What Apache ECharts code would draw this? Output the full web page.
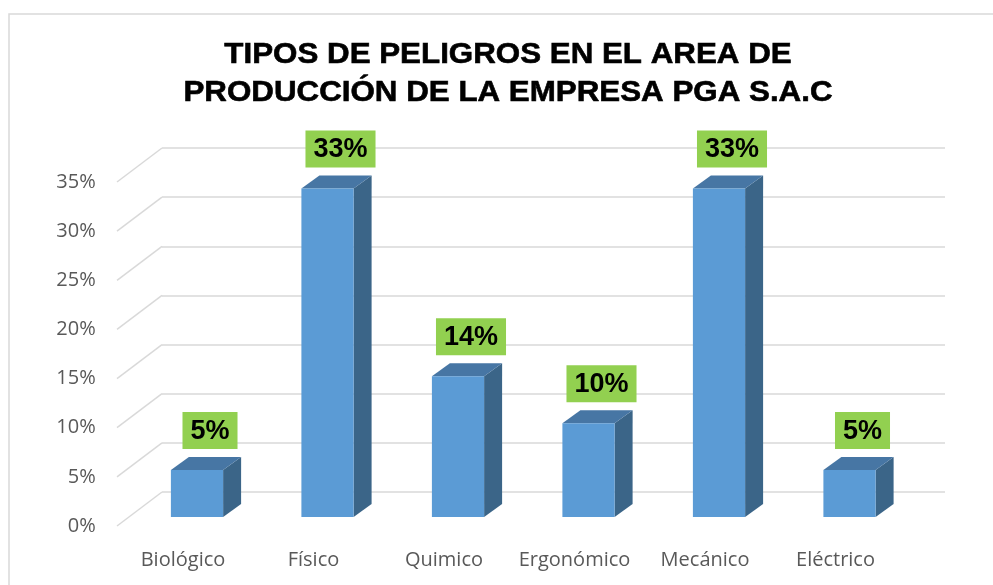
<!DOCTYPE html>
<html>
<head>
<meta charset="utf-8">
<script src="https://cdn.jsdelivr.net/npm/echarts@6/dist/echarts.min.js"></script>
<style>html,body{margin:0;padding:0;background:#fff;}#c{width:993px;height:585px;}</style>
</head>
<body>
<div id="c"></div>
<script>
const categories = ['Biológico', 'Físico', 'Quimico', 'Ergonómico', 'Mecánico', 'Eléctrico'];
const values = [4.76, 33.33, 14.29, 9.52, 33.33, 4.76];
const yTicks = [0, 5, 10, 15, 20, 25, 30, 35];
const titleLines = ['TIPOS DE PELIGROS EN EL AREA DE', 'PRODUCCIÓN DE LA EMPRESA PGA S.A.C'];

const chart = echarts.init(document.getElementById('c'), null, {renderer: 'canvas'});

const DEPTH_X = 18, DEPTH_Y = -13;      // bar depth
const WALL_X = 45, WALL_Y = 34;         // floor/wall depth
const GRID_COLOR = '#d9d9d9';

const option = {
  backgroundColor: '#ffffff',
  animation: false,
  graphic: [
    {type: 'rect', z: -10, shape: {x: 9, y: 14, width: 1000, height: 600},
     style: {fill: 'none', stroke: '#d9d9d9', lineWidth: 1.5}},
    {type: 'text', x: 508, y: 36, scaleX: 1.08, z: 10,
     style: {text: titleLines.join('\n'), font: 'bold 29px "Liberation Sans", Arial, sans-serif',
             fill: '#000000', align: 'center', verticalAlign: 'top', lineHeight: 38,
             stroke: '#000000', lineWidth: 0.6}}
  ],
  grid: [
    {left: 131.75, right: 78.25, top: 172, bottom: 68},   // bars (front plane of bars)
    {left: 162, right: 48, top: 148, bottom: 93},         // back wall
    {left: 117.75, right: 92.25, top: 182, bottom: 59}    // front edge (labels)
  ],
  xAxis: [
    {gridIndex: 0, type: 'category', data: categories, show: false},
    {gridIndex: 1, type: 'value', min: 0, max: 1, show: false},
    {gridIndex: 2, type: 'category', data: categories,
     axisLine: {show: false}, axisTick: {show: false},
     axisLabel: {interval: 0, color: '#595959', fontSize: 20, fontFamily: '"Open Sans", sans-serif', margin: 24}}
  ],
  yAxis: [
    {gridIndex: 0, type: 'value', min: 0, max: 35, interval: 5, show: false},
    {gridIndex: 1, type: 'value', min: 0, max: 35, interval: 5,
     axisLine: {show: false}, axisTick: {show: false}, axisLabel: {show: false},
     splitLine: {show: true, lineStyle: {color: GRID_COLOR, width: 1.5}}},
    {gridIndex: 2, type: 'value', min: 0, max: 35, interval: 5,
     axisLine: {show: false}, axisTick: {show: false}, splitLine: {show: false},
     axisLabel: {color: '#595959', fontSize: 20, fontFamily: '"Open Sans", sans-serif', margin: 22,
                 formatter: '{value}%'}}
  ],
  series: [
    {
      type: 'custom', xAxisIndex: 1, yAxisIndex: 1, z: 1,
      data: yTicks.map(t => [0, t]),
      renderItem: function (params, api) {
        const p = api.coord([0, api.value(1)]);
        return {type: 'line', shape: {x1: p[0] - WALL_X, y1: p[1] + WALL_Y, x2: p[0], y2: p[1]},
                style: {stroke: GRID_COLOR, lineWidth: 1.5}};
      }
    },
    {
      type: 'custom', xAxisIndex: 0, yAxisIndex: 0, z: 5,
      data: values.map((v, i) => [i, v]),
      renderItem: function (params, api) {
        const i = api.value(0), v = api.value(1);
        const base = api.coord([i, 0]);
        const top = api.coord([i, v]);
        const w = api.size([1, 0])[0] * 0.4;
        const x0 = base[0] - w / 2, x1 = base[0] + w / 2;
        const yb = base[1], yt = top[1];
        return {
          type: 'group',
          children: [
            {type: 'polygon', shape: {points: [[x1, yt], [x1 + DEPTH_X, yt + DEPTH_Y], [x1 + DEPTH_X, yb + DEPTH_Y], [x1, yb]]},
             style: {fill: '#3b6588'}},
            {type: 'polygon', shape: {points: [[x0, yt], [x0 + DEPTH_X, yt + DEPTH_Y], [x1 + DEPTH_X, yt + DEPTH_Y], [x1, yt]]},
             style: {fill: '#4776a4'}},
            {type: 'rect', shape: {x: x0, y: yt, width: w, height: yb - yt},
             style: {fill: '#5b9bd5'}},
            {type: 'text', x: base[0] + 13, y: yt + DEPTH_Y - 8,
             style: {text: Math.round(v) + '%', font: 'bold 27px "Liberation Sans", Arial, sans-serif',
                     fill: '#000000', align: 'center', verticalAlign: 'bottom',
                     backgroundColor: '#92d050', padding: [6, 8, 4, 8]}}
          ]
        };
      }
    }
  ]
};
chart.setOption(option);
</script>
</body>
</html>
